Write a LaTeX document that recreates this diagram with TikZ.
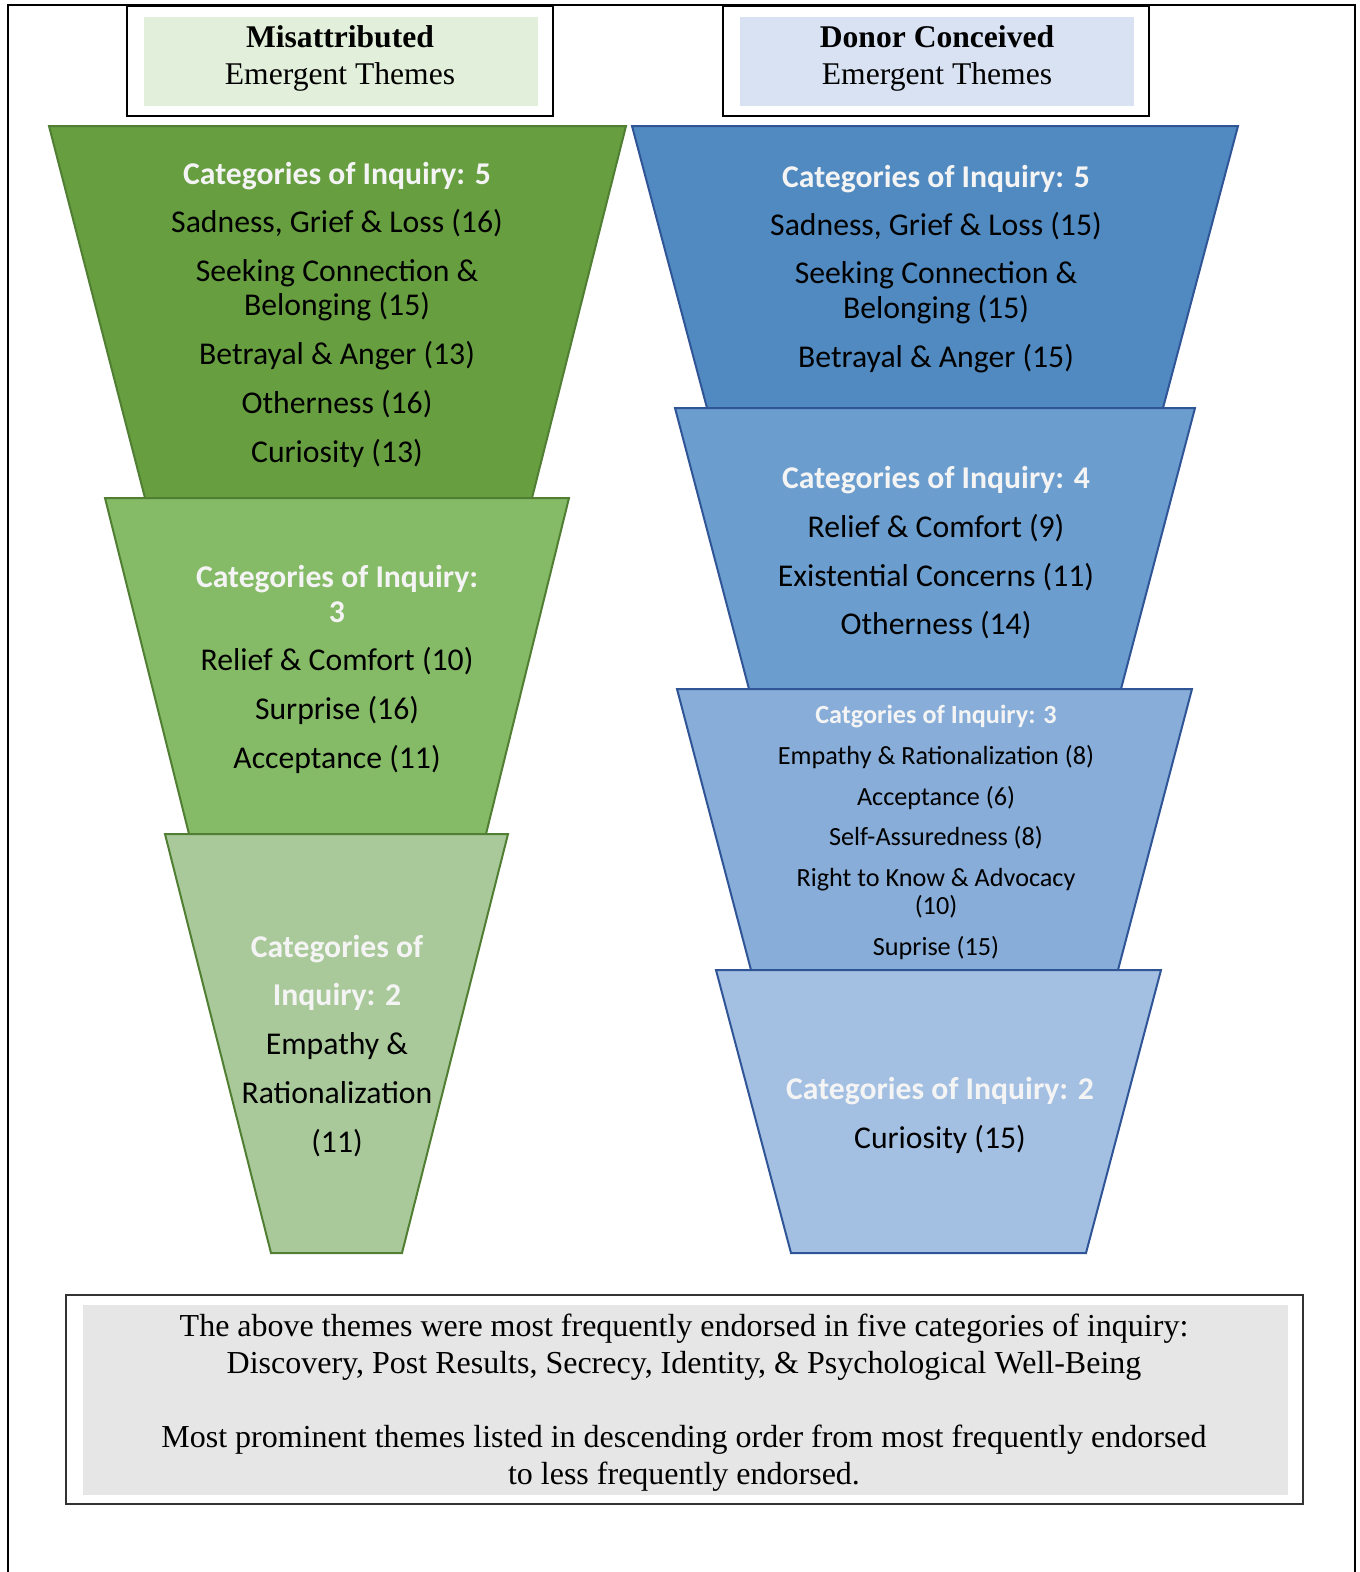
\documentclass[tikz,border=0pt]{standalone}
\usepackage{fontspec}
\setmainfont{Liberation Serif}
\newfontfamily\calib{Carlito}
\definecolor{gA}{HTML}{669E40}
\definecolor{gB}{HTML}{85BA66}
\definecolor{gC}{HTML}{AAC99B}
\definecolor{gLine}{HTML}{507E32}
\definecolor{bA}{HTML}{508AC0}
\definecolor{bB}{HTML}{6B9DCE}
\definecolor{bC}{HTML}{87ADD8}
\definecolor{bD}{HTML}{A3BFE2}
\definecolor{bLine}{HTML}{2F5597}
\definecolor{hGreen}{HTML}{E2EFDA}
\definecolor{hBlue}{HTML}{D9E2F3}
\definecolor{noteGray}{HTML}{E6E6E6}
\definecolor{headTxt}{HTML}{F4F4F4}
\begin{document}
\begin{tikzpicture}[x=1pt,y=-1pt,
  gtrap/.style={draw=gLine,line width=2pt,line join=miter},
  btrap/.style={draw=bLine,line width=2pt,line join=miter},
  cathead/.style={font=\calib\bfseries\fontsize{31.7}{36}\selectfont,text=headTxt,anchor=base,inner sep=0pt},
  item/.style={font=\calib\fontsize{31.7}{36}\selectfont,text=black,anchor=base,inner sep=0pt},
  smallhead/.style={font=\calib\bfseries\fontsize{26.2}{30}\selectfont,text=headTxt,anchor=base,inner sep=0pt},
  smallitem/.style={font=\calib\fontsize{26.2}{30}\selectfont,text=black,anchor=base,inner sep=0pt},
  titlebold/.style={font=\bfseries\fontsize{31.6}{36}\selectfont,anchor=base,inner sep=0pt},
  titlereg/.style={font=\fontsize{31.6}{36}\selectfont,anchor=base,inner sep=0pt},
  notetxt/.style={font=\fontsize{32}{36}\selectfont,anchor=base,inner sep=0pt}
]
\useasboundingbox (0,0) rectangle (1360,1572);
% outer frame (open at bottom)
\draw[line width=1.5pt] (8,1572) -- (8,5) -- (1355,5) -- (1355,1572);

% header boxes
\draw[line width=1.5pt] (127,6) rectangle (553,116);
\fill[hGreen] (144,17) rectangle (538,106);
\node[titlebold] (hm1) at (340,47) {Misattributed};
\node[titlereg] (hm2) at (340,84) {Emergent Themes};

\draw[line width=1.5pt] (723,6) rectangle (1149,116);
\fill[hBlue] (740,17) rectangle (1134,106);
\node[titlebold] (hd1) at (937,47) {Donor Conceived};
\node[titlereg] (hd2) at (937,84) {Emergent Themes};

% green funnel
\filldraw[gtrap,fill=gA] (49,126) -- (626,126) -- (532,498) -- (145,498) -- cycle;
\filldraw[gtrap,fill=gB] (105,498) -- (569,498) -- (486,834) -- (189,834) -- cycle;
\filldraw[gtrap,fill=gC] (165,834) -- (508,834) -- (402,1253) -- (271,1253) -- cycle;

\node[cathead] (g1h) at (337,184) {Categories of Inquiry: 5};
\node[item] (g1a) at (337,232) {Sadness, Grief \& Loss (16)};
\node[item] (g1b) at (337,281) {Seeking Connection \&};
\node[item] (g1c) at (337,315) {Belonging (15)};
\node[item] (g1d) at (337,364) {Betrayal \& Anger (13)};
\node[item] (g1e) at (337,413) {Otherness (16)};
\node[item] (g1f) at (337,462) {Curiosity (13)};

\node[cathead] (g2h) at (337,587) {Categories of Inquiry:};
\node[cathead] (g2h2) at (337,622) {3};
\node[item] (g2a) at (337,670) {Relief \& Comfort (10)};
\node[item] (g2b) at (337,719) {Surprise (16)};
\node[item] (g2c) at (337,768) {Acceptance (11)};

\node[cathead] (g3h) at (337,957) {Categories of};
\node[cathead] (g3h2) at (337,1005) {Inquiry: 2};
\node[item] (g3a) at (337,1054) {Empathy \&};
\node[item] (g3b) at (337,1103) {Rationalization};
\node[item] (g3c) at (337,1152) {(11)};

% blue funnel
\filldraw[btrap,fill=bA] (632,126) -- (1238,126) -- (1163,408) -- (707,408) -- cycle;
\filldraw[btrap,fill=bB] (675,408) -- (1195,408) -- (1121,689) -- (749,689) -- cycle;
\filldraw[btrap,fill=bC] (677,689) -- (1192,689) -- (1118,970) -- (751,970) -- cycle;
\filldraw[btrap,fill=bD] (716,970) -- (1161,970) -- (1086,1253) -- (791,1253) -- cycle;

\node[cathead] (b1h) at (936,187) {Categories of Inquiry: 5};
\node[item] (b1a) at (936,235) {Sadness, Grief \& Loss (15)};
\node[item] (b1b) at (936,283) {Seeking Connection \&};
\node[item] (b1c) at (936,318) {Belonging (15)};
\node[item] (b1d) at (936,367) {Betrayal \& Anger (15)};

\node[cathead] (b2h) at (936,488) {Categories of Inquiry: 4};
\node[item] (b2a) at (936,537) {Relief \& Comfort (9)};
\node[item] (b2b) at (936,586) {Existential Concerns (11)};
\node[item] (b2c) at (936,634) {Otherness (14)};

\node[smallhead] (b3h) at (936,723) {Catgories of Inquiry: 3};
\node[smallitem] (b3a) at (936,764) {Empathy \& Rationalization (8)};
\node[smallitem] (b3b) at (936,805) {Acceptance (6)};
\node[smallitem] (b3c) at (936,845) {Self-Assuredness (8)};
\node[smallitem] (b3d) at (936,886) {Right to Know \& Advocacy};
\node[smallitem] (b3e) at (936,914) {(10)};
\node[smallitem] (b3f) at (936,955) {Suprise (15)};

\node[cathead] (b4h) at (940,1099) {Categories of Inquiry: 2};
\node[item] (b4a) at (940,1148) {Curiosity (15)};

% note box
\draw[line width=1.5pt,draw=black!80] (66,1295) rectangle (1303,1504);
\fill[noteGray] (83,1305) rectangle (1288,1495);
\node[notetxt] (n1) at (684,1336) {The above themes were most frequently endorsed in five categories of inquiry:};
\node[notetxt] (n2) at (684,1373) {Discovery, Post Results, Secrecy, Identity, \& Psychological Well-Being};
\node[notetxt] (n3) at (684,1447) {Most prominent themes listed in descending order from most frequently endorsed};
\node[notetxt] (n4) at (684,1484) {to less frequently endorsed.};
\end{tikzpicture}
\end{document}
